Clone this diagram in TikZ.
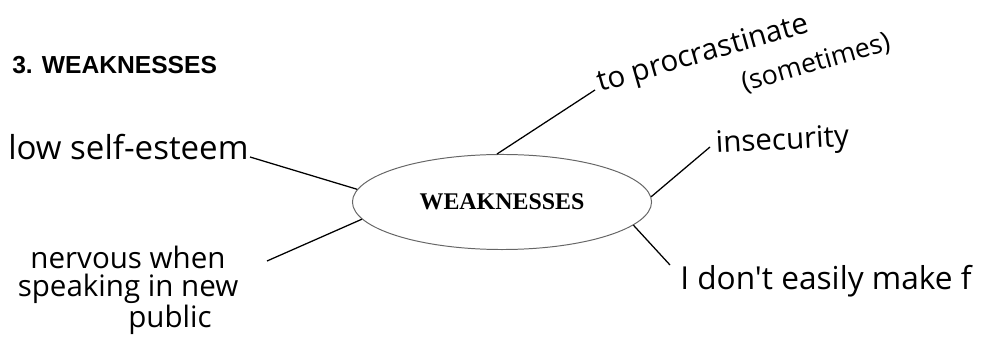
\documentclass[tikz,border=0pt]{standalone}
\usepackage{fontspec}
\newfontfamily\titlefont{Liberation Sans}
\newfontfamily\corefont{Liberation Serif}
\newfontfamily\handfont{Open Sans}
\usetikzlibrary{shapes.geometric}

\begin{document}
\begin{tikzpicture}[
    x=0.025cm, y=-0.025cm,
    heading/.style={anchor=west, inner sep=0pt, font=\titlefont\bfseries\fontsize{17.5}{21}\selectfont},
    bubble/.style={ellipse, draw=black!60, line width=0.7pt, minimum width=7.475cm, minimum height=2.375cm, inner sep=0pt, font=\corefont\bfseries\fontsize{17}{20}\selectfont},
    hand/.style={inner sep=0pt, font=\handfont\fontsize{21}{20}\selectfont},
    link/.style={draw=black, line width=0.9pt},
  ]
  \useasboundingbox (0,0) rectangle (1005,339);
  \clip (0,0) rectangle (1005,339);

  % Title
  \node[heading] (title) at (12,65) {3. WEAKNESSES};

  % Centre
  \node[bubble] (core) at (502,202) {WEAKNESSES};

  % Notes round the centre
  \node[hand, anchor=base west, font=\handfont\fontsize{23.5}{20}\selectfont] (esteem) at (8,160) {low self-esteem};
  \node[hand, anchor=north, align=center] (nervous) at (128,246) {nervous when\\speaking in new\\\hspace*{2.1cm}public};
  \node[hand, anchor=base west, rotate=16] (procr) at (600,92) {to procrastinate};
  \node[hand, anchor=base west, rotate=16, font=\handfont\fontsize{19}{20}\selectfont] (sometimes) at (744,92) {(sometimes)};
  \node[hand, anchor=base west, rotate=3] (insec) at (716,153) {insecurity};
  \node[hand, anchor=base west, font=\handfont\fontsize{22.5}{20}\selectfont] (friends) at (680,290) {I don't easily make f};

  % Free ends of the links
  \coordinate (esteemtip) at (250,157);
  \coordinate (nervoustip) at (267,261);
  \coordinate (procrtip) at (595,90);
  \coordinate (insectip) at (710,147);
  \coordinate (friendstip) at (670,265);

  \draw[link] (esteemtip) -- (core.175);
  \draw[link] (nervoustip) -- (core.187);
  \draw[link] (procrtip) -- (core.96);
  \draw[link] (insectip) -- (core.2);
  \draw[link] (friendstip) -- (core.-10);
\end{tikzpicture}
\end{document}
